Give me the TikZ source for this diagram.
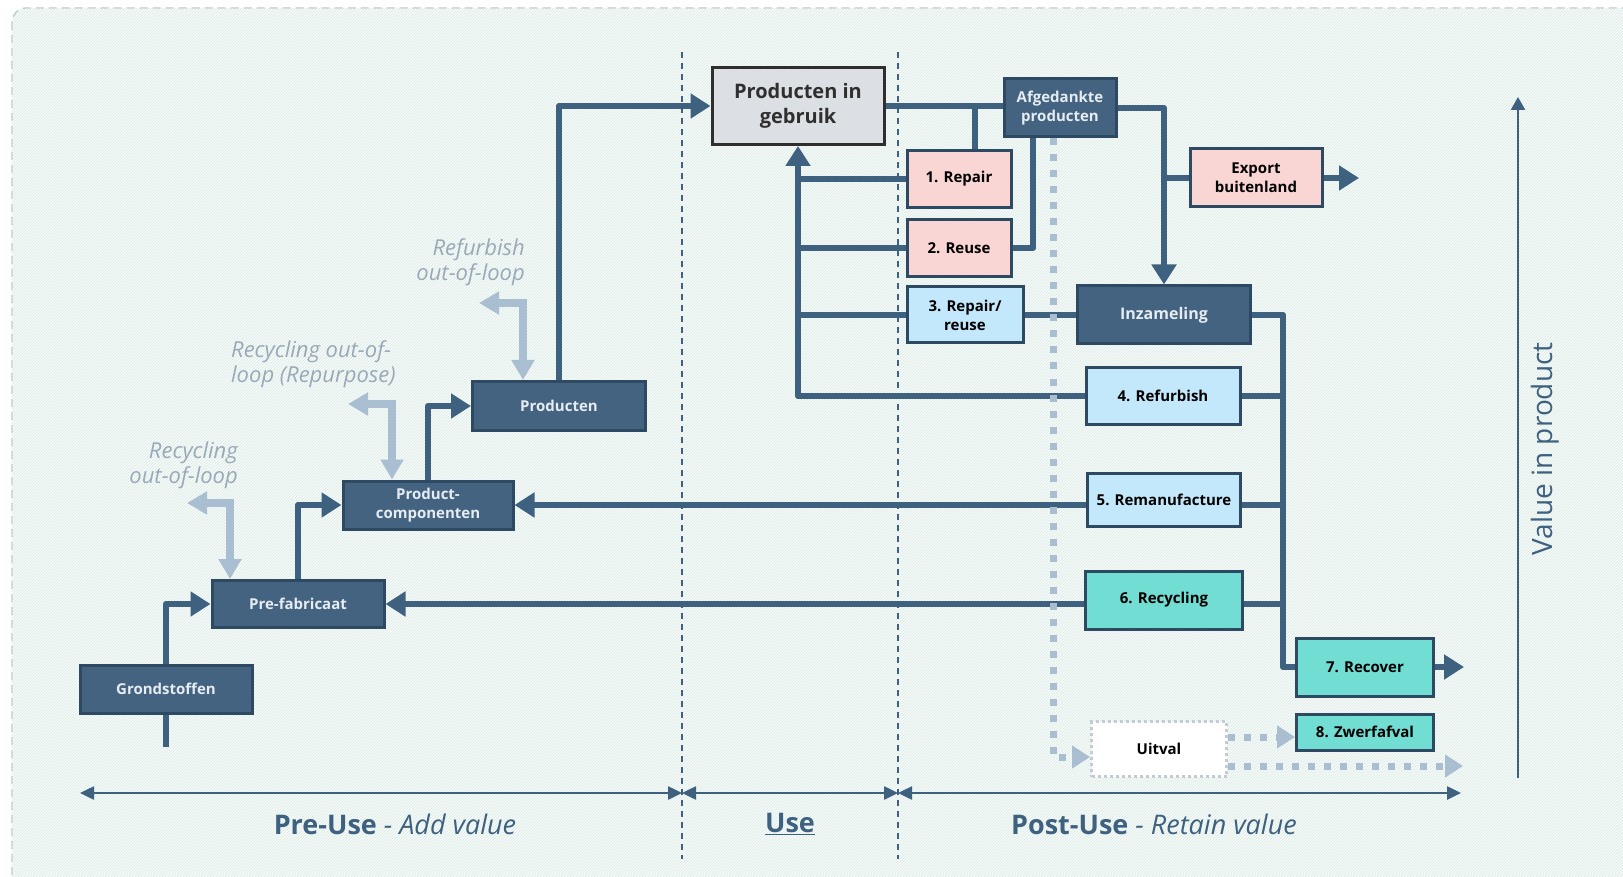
\documentclass[tikz,border=0pt]{standalone}
\usepackage{fontspec}
\setmainfont{Open Sans}
\usepackage{tikz}
\usetikzlibrary{arrows.meta,patterns}

\definecolor{slate}{HTML}{436380}
\definecolor{slateline}{HTML}{2E4A63}
\definecolor{paper}{HTML}{E6ECF1}
\definecolor{flowc}{HTML}{3E6180}
\definecolor{pinkc}{HTML}{F9D5D3}
\definecolor{skyc}{HTML}{C3E8FB}
\definecolor{tealc}{HTML}{72DDD2}
\definecolor{greyc}{HTML}{DCDFE4}
\definecolor{inkc}{HTML}{2F2F2F}
\definecolor{loopc}{HTML}{A9BFD1}
\definecolor{loopt}{HTML}{9AA9B8}
\definecolor{bgc}{HTML}{F7FBFA}
\definecolor{hatchc}{HTML}{D8E9E4}
\definecolor{framec}{HTML}{BAC7D1}
\definecolor{dropc}{HTML}{C3CBD4}

\begin{document}
\begin{tikzpicture}[x=1pt,y=-1pt]
\tikzset{
	unit/.style = {rectangle, draw=slateline, line width=3pt, align=center,
		inner sep=2pt, font=\fontsize{15}{19}\selectfont\bfseries},
	dark node/.style = {unit, fill=slate, text=paper},
	pink node/.style = {unit, fill=pinkc},
	sky node/.style = {unit, fill=skyc},
	teal node/.style = {unit, fill=tealc},
	pipe/.style = {draw=flowc, line width=6.5pt, line join=round},
	flow/.style = {pipe, -{Triangle[length=20pt,width=24pt]}},
	loop flow/.style = {draw=loopc, line width=8pt,
		{Triangle[length=20pt,width=22pt]}-{Triangle[length=20pt,width=22pt]}},
	loss/.style = {draw=loopc, line width=7pt, dash pattern=on 7pt off 9pt,
		-{Triangle[length=18pt,width=22pt]}},
	loop label/.style = {inner sep=0pt, text=loopt, font=\fontsize{22}{25}\selectfont\itshape},
	axis/.style = {draw=flowc, line width=2.5pt,
		{Triangle[length=14pt,width=13pt]}-{Triangle[length=14pt,width=13pt]}},
	divider/.style = {draw=flowc, line width=1.4pt, dash pattern=on 6pt off 5pt},
	phase label/.style = {text=flowc, font=\fontsize{27}{30}\selectfont},
}
\useasboundingbox (0,0) rectangle (1623,877);
\fill[white] (0,0) rectangle (1623,877);
\draw[framec, line width=1.3pt, dash pattern=on 8pt off 5pt, rounded corners=14pt, fill=bgc] (12,8) rectangle (1680,920);
\fill[pattern=north east lines, pattern color=hatchc, rounded corners=14pt] (12,8) rectangle (1680,920);

\foreach \x in {682,898}
	\draw[divider] (\x,52) -- (\x,859);

\node[dark node, minimum width=172pt, minimum height=48pt] (grond) at (166,689) {Grondstoffen};
\node[dark node, minimum width=172pt, minimum height=47pt] (prefab) at (298,604) {Pre-fabricaat};
\node[dark node, minimum width=170pt, minimum height=48pt] (comp) at (428,505) {Product-\\componenten};
\node[dark node, minimum width=173pt, minimum height=49pt] (prod) at (559,406) {Producten};
\node[unit, draw=inkc, fill=greyc, text=inkc, minimum width=172pt, minimum height=77pt,
	font=\fontsize{20}{25}\selectfont\bfseries] (gebruik) at (798,106) {Producten in\\gebruik};
\node[dark node, minimum width=112pt, minimum height=58pt] (afged) at (1060,108) {Afgedankte\\producten};
\node[pink node, minimum width=104pt, minimum height=57pt] (repair) at (959,179) {1. Repair};
\node[pink node, minimum width=104pt, minimum height=57pt] (reuse) at (959,248) {2. Reuse};
\node[sky node, minimum width=116pt, minimum height=56pt] (rr) at (965,315) {3. Repair/\\reuse};
\node[dark node, minimum width=173pt, minimum height=58pt, font=\fontsize{16}{19}\selectfont\bfseries] (inzam) at (1164,315) {Inzameling};
\node[pink node, minimum width=132pt, minimum height=58pt] (export) at (1256,178) {Export\\buitenland};
\node[sky node, minimum width=154pt, minimum height=57pt] (refurb) at (1163,396) {4. Refurbish};
\node[sky node, minimum width=153pt, minimum height=53pt] (reman) at (1164,500) {5. Remanufacture};
\node[teal node, minimum width=157pt, minimum height=58pt] (recyc) at (1164,600) {6. Recycling};
\node[teal node, minimum width=137pt, minimum height=58pt] (recover) at (1365,667) {7. Recover};
\node[teal node, minimum width=137pt, minimum height=36pt] (zwerf) at (1365,732) {8. Zwerfafval};
\node[unit, draw=dropc, fill=white, dash pattern=on 3pt off 3pt, minimum width=135pt, minimum height=55pt] (uitval) at (1159,749) {Uitval};

\coordinate (start) at (166,747);
\coordinate (exportend) at (1359,178);
\coordinate (recoverend) at (1464,667);
\coordinate (bus) at ([xshift=31pt]inzam.east);
\coordinate (drop) at ([xshift=-7pt]afged.south);
\coordinate (uitend) at (1463,766);

\draw[pipe] (start) -- (grond.south);
\draw[flow] (grond.north) |- (prefab.west);
\draw[flow] (prefab.north) |- (comp.west);
\draw[flow] (comp.north) |- (prod.west);
\draw[flow] (prod.north) |- (gebruik.west);

\draw[pipe] (gebruik.east) -- (gebruik.east -| afged.west);
\draw[pipe] ([xshift=16pt]repair.north) -- ([xshift=16pt]repair.north |- gebruik.east);
\draw[pipe] (reuse.east) -| ([xshift=-27pt]afged.south);
\draw[flow] (afged.east) -| (inzam.north);
\draw[pipe] (export.west -| inzam.north) -- (export.west);
\draw[flow] (export.east) -- (exportend);

\draw[flow] (refurb.west) -| (gebruik.south);
\draw[pipe] (repair.west) -- (repair.west -| gebruik.south);
\draw[pipe] (reuse.west) -- (reuse.west -| gebruik.south);
\draw[pipe] (rr.west) -- (rr.west -| gebruik.south);
\draw[pipe] (rr.east) -- (inzam.west);

\draw[pipe] (inzam.east) -- (bus) |- (recover.west);
\draw[pipe] (refurb.east) -- (refurb.east -| bus);
\draw[pipe] (reman.east |- comp.east) -- (comp.east -| bus);
\draw[pipe] (recyc.east |- prefab.east) -- (prefab.east -| bus);
\draw[flow] (reman.west |- comp.east) -- (comp.east);
\draw[flow] (recyc.west |- prefab.east) -- (prefab.east);
\draw[flow] (recover.east) -- (recoverend);

\draw[loss] (drop) |- ([yshift=-8pt]uitval.west);
\draw[loss] ([yshift=12pt]uitval.east) -- ([yshift=12pt]uitval.east -| zwerf.west);
\draw[loss] ([yshift=-17pt]uitval.east) -- (uitend);

\coordinate (lp1) at (479,303);
\coordinate (lp2) at (348,404);
\coordinate (lp3) at (187,503);
\draw[loop flow] (lp1) -| ([xshift=-36pt]prod.north);
\draw[loop flow] (lp2) -| ([xshift=-36pt]comp.north);
\draw[loop flow] (lp3) -| ([xshift=-68pt]prefab.north);
\node[loop label, anchor=east, align=right] (lbrefurb) at (525,262) {Refurbish\\out-of-loop};
\node[loop label, anchor=west, align=left] (lbrepurp) at (231,364) {Recycling out-of-\\loop (Repurpose)};
\node[loop label, anchor=east, align=right] (lbrecyc) at (238,465) {Recycling\\out-of-loop};

\coordinate (ax0) at (80,793);
\coordinate (ax1) at (682,793);
\coordinate (ax2) at (898,793);
\coordinate (ax3) at (1461,793);
\draw[axis] (ax0) -- (ax1);
\draw[axis] (ax1) -- (ax2);
\draw[axis] (ax2) -- (ax3);
\node[phase label] (preuse) at (395,824) {\textbf{Pre-Use} {\itshape - Add value}};
\node[phase label] (use) at (790,824) {\textbf{\underline{Use}}};
\node[phase label] (postuse) at (1154,824) {\textbf{Post-Use} {\itshape - Retain value}};

\coordinate (v0) at (1518,778);
\coordinate (v1) at (1518,97);
\draw[draw=flowc, line width=2.5pt, -{Triangle[length=13pt,width=14pt]}] (v0) -- (v1);
\node[phase label, rotate=90, font=\fontsize{28}{30}\selectfont] (valuetxt) at (1545,449) {Value in product};

\end{tikzpicture}
\end{document}
